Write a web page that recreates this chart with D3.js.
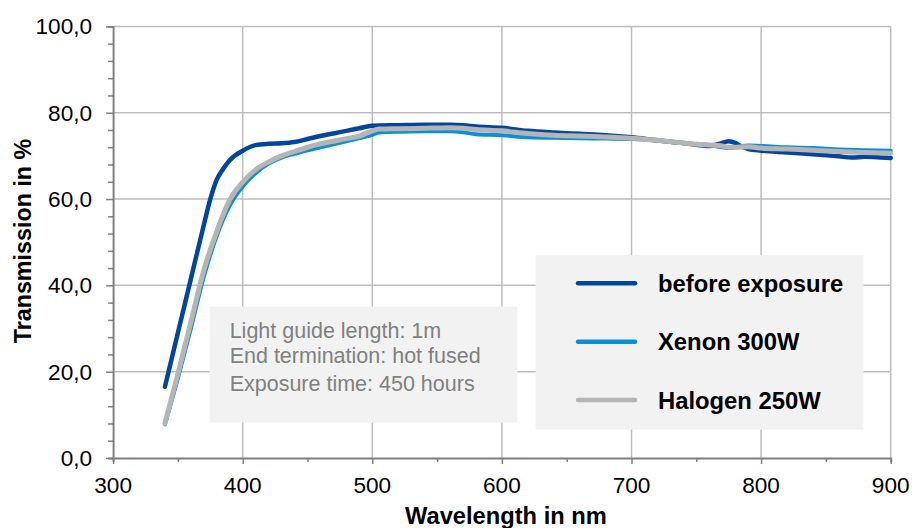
<!DOCTYPE html>
<html>
<head>
<meta charset="utf-8">
<script src="https://cdn.jsdelivr.net/npm/d3@7"></script>
<style>
  body { margin: 0; background: #fff; }
  svg { display: block; font-family: "Liberation Sans", Arial, sans-serif; }
</style>
</head>
<body>
<svg></svg>
<script>
// data
const beforeNm  = [340,350,360,370,375,380,385,390,400,410,420,430,440,450,460,470,480,490,500,520,540,560,570,580,600,620,640,660,680,700,720,740,760,768,775,780,785,790,800,820,840,860,870,880,890,900];
const beforeVal = [16.5,29.0,41.5,54.0,60.0,64.5,67.0,69.0,71.2,72.5,72.8,72.9,73.2,73.9,74.6,75.2,75.8,76.4,77.0,77.1,77.2,77.2,77.1,76.8,76.5,75.8,75.4,75.1,74.8,74.3,73.6,73.0,72.3,72.8,73.4,73.0,72.1,71.6,71.2,70.8,70.4,69.9,69.6,69.8,69.7,69.5];

const xenonNm  = [340,350,360,370,380,390,400,410,420,430,440,450,460,470,480,490,500,505,520,540,560,570,580,600,620,640,660,680,700,720,740,760,770,775,780,790,800,820,840,860,880,900];
const xenonVal = [7.8,18.5,30.0,42.0,51.5,58.5,62.9,66.0,68.2,69.6,70.5,71.3,72.0,72.7,73.4,74.1,74.9,75.4,75.6,75.7,75.7,75.5,75.0,74.8,74.3,74.2,74.1,74.0,73.9,73.5,72.9,72.5,72.0,71.8,72.0,72.4,72.3,72.0,71.8,71.5,71.3,71.2];

const halogenNm  = [340,350,360,370,380,390,400,410,420,430,440,450,460,470,480,490,500,505,520,540,560,570,580,600,620,640,660,680,700,720,740,760,770,775,780,790,800,820,840,860,880,900];
const halogenVal = [8.0,19.5,31.5,43.5,52.5,59.8,63.9,66.8,68.6,70.0,71.0,72.0,72.8,73.4,74.0,74.6,75.8,76.2,76.3,76.4,76.5,76.4,76.1,75.8,75.2,74.8,74.6,74.4,74.1,73.6,73.0,72.5,72.3,72.0,72.0,72.1,71.8,71.6,71.3,71.0,70.8,70.6];

const seriesNames = ["before exposure", "Xenon 300W", "Halogen 250W"];
const xTicks = [300,400,500,600,700,800,900];
const yTicks = [0,20,40,60,80,100];
const noteLines = ["Light guide length: 1m", "End termination: hot fused", "Exposure time: 450 hours"];
const xTitle = "Wavelength in nm";
const yTitle = "Transmission in %";

// canvas
const svgSize = { width: 914, height: 528 };
const margin = { top: 26.4, right: 23.3, bottom: 70, left: 113.1 };
const width = svgSize.width - margin.left - margin.right;
const height = svgSize.height - margin.top - margin.bottom;

const svg = d3.select("svg")
  .attr("width", svgSize.width)
  .attr("height", svgSize.height);

const chart = svg.append("g")
  .attr("transform", `translate(${margin.left},${margin.top})`);

const x = d3.scaleLinear().domain([300, 900]).range([0, width]);
const y = d3.scaleLinear().domain([0, 100]).range([height, 0]);

const colors = ["#00469e", "#0a8fd8", "#b5b5b5"];
const widths = [4.5, 4, 5];
const gridColor = "#bdbdbd";
const axisColor = "#7f7f7f";

// grid
chart.append("g").selectAll("line")
  .data(xTicks.slice(1))
  .enter().append("line")
  .attr("x1", d => x(d)).attr("x2", d => x(d))
  .attr("y1", 0).attr("y2", height)
  .attr("stroke", gridColor).attr("stroke-width", 1.5);

chart.append("g").selectAll("line")
  .data(yTicks.slice(1))
  .enter().append("line")
  .attr("x1", 0).attr("x2", width)
  .attr("y1", d => y(d)).attr("y2", d => y(d))
  .attr("stroke", gridColor).attr("stroke-width", 1.5);

// y axis
const yAxis = d3.axisLeft(y)
  .tickValues(d3.range(0, 101, 4))
  .tickSize(5)
  .tickFormat("");
const yAxisG = chart.append("g").call(yAxis);
yAxisG.selectAll("line").attr("stroke", axisColor).attr("stroke-width", 1.5);
yAxisG.select(".domain").attr("stroke", axisColor).attr("stroke-width", 2);
yAxisG.selectAll(".tick")
  .filter(d => yTicks.includes(d))
  .select("line").attr("x2", -7);

chart.append("g").selectAll("text")
  .data(yTicks)
  .enter().append("text")
  .attr("x", -21)
  .attr("y", d => y(d) + 8)
  .attr("text-anchor", "end")
  .attr("font-size", 22.6)
  .attr("fill", "#000")
  .text(d => d3.format(".1f")(d).replace(".", ","));

// x axis
const xAxis = d3.axisBottom(x)
  .tickValues(d3.range(300, 901, 50))
  .tickSize(4)
  .tickFormat("");
const xAxisG = chart.append("g")
  .attr("transform", `translate(0,${height})`)
  .call(xAxis);
xAxisG.selectAll("line").attr("stroke", axisColor).attr("stroke-width", 1.5);
xAxisG.select(".domain").attr("stroke", axisColor).attr("stroke-width", 2);
xAxisG.selectAll(".tick")
  .filter(d => xTicks.includes(d))
  .select("line").attr("y2", 6);

chart.append("g").selectAll("text")
  .data(xTicks)
  .enter().append("text")
  .attr("x", d => x(d))
  .attr("y", height + 35.5)
  .attr("text-anchor", "middle")
  .attr("font-size", 22.6)
  .attr("fill", "#000")
  .text(d => d);

// axis titles
svg.append("text")
  .attr("x", margin.left + x(600) + 4)
  .attr("y", 523.5)
  .attr("text-anchor", "middle")
  .attr("font-size", 23.7)
  .attr("font-weight", "bold")
  .text(xTitle);

svg.append("text")
  .attr("transform", "translate(30.5,241) rotate(-90)")
  .attr("text-anchor", "middle")
  .attr("font-size", 23.3)
  .attr("font-weight", "bold")
  .text(yTitle);

// note box
const noteG = chart.append("g");
noteG.append("rect")
  .attr("x", x(374.5)).attr("y", y(35.1))
  .attr("width", x(612) - x(374.5))
  .attr("height", y(8.2) - y(35.1))
  .attr("fill", "#f2f2f2");
noteG.selectAll("text")
  .data(noteLines)
  .enter().append("text")
  .attr("x", x(374.5) + 20)
  .attr("y", (d, i) => [312, 337, 364.6][i])
  .attr("font-size", 21.5)
  .attr("fill", "#808080")
  .text(d => d);

// lines
const seriesList = [
  { nm: beforeNm, val: beforeVal },
  { nm: xenonNm, val: xenonVal },
  { nm: halogenNm, val: halogenVal }
];

const line = d3.line()
  .x(d => x(d[0]))
  .y(d => y(d[1]))
  .curve(d3.curveMonotoneX);

seriesList.forEach((s, i) => {
  chart.append("path")
    .datum(d3.zip(s.nm, s.val))
    .attr("d", line)
    .attr("fill", "none")
    .attr("stroke", colors[i])
    .attr("stroke-width", widths[i])
    .attr("stroke-linecap", "round")
    .attr("stroke-linejoin", "round");
});

// legend
const legend = chart.append("g");
legend.append("rect")
  .attr("x", x(626)).attr("y", y(47.0))
  .attr("width", x(879) - x(626))
  .attr("height", y(6.6) - y(47.0))
  .attr("fill", "#f2f2f2");

const legendRows = [283.3, 341.7, 400].map(v => v - margin.top);
const legendItems = legend.selectAll("g.item")
  .data(seriesNames)
  .enter().append("g")
  .attr("class", "item")
  .attr("transform", (d, i) => `translate(0,${legendRows[i]})`);

legendItems.append("line")
  .attr("x1", 578 - margin.left).attr("x2", 635 - margin.left)
  .attr("stroke", (d, i) => colors[i])
  .attr("stroke-width", 4.5)
  .attr("stroke-linecap", "round");

legendItems.append("text")
  .attr("x", 658 - margin.left)
  .attr("y", 8.6)
  .attr("font-size", 23.8)
  .attr("font-weight", "bold")
  .attr("fill", "#000")
  .text(d => d);
</script>
</body>
</html>
